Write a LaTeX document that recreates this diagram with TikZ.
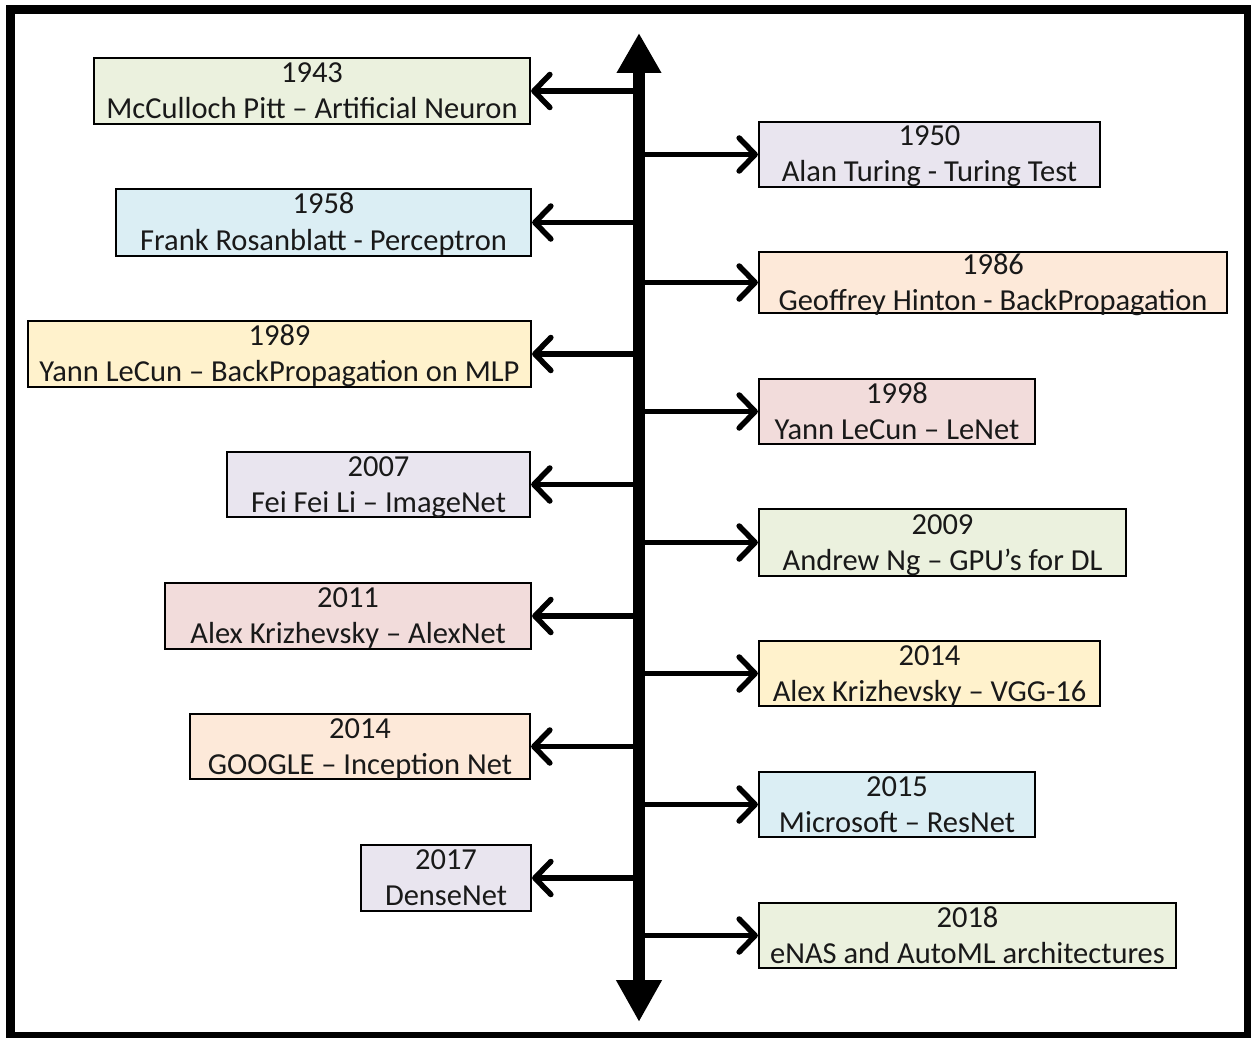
\documentclass[tikz,border=0pt]{standalone}
\usepackage{fontspec}
\setmainfont{Carlito}
\usetikzlibrary{arrows.meta,calc}

\definecolor{evgreen}{HTML}{EBF1DE}
\definecolor{evblue}{HTML}{DBEEF4}
\definecolor{evyellow}{HTML}{FFF2CC}
\definecolor{evlilac}{HTML}{E9E5EF}
\definecolor{evpink}{HTML}{F2DCDB}
\definecolor{evpeach}{HTML}{FDE9D9}

\tikzset{
  evbox/.style={draw=black, line width=2.2pt, rectangle, inner sep=0pt},
  evtext/.style={anchor=base, inner sep=0pt, font=\fontsize{30.5}{36}\selectfont, text=black!90},
  timeaxis/.style={line width=12pt, {Triangle[length=40pt,width=42pt]}-{Triangle[length=42pt,width=43pt]}},
  branch/.style={line width=5.5pt, -{Straight Barb[length=16pt,width=33pt,round]}},
}

% \EventBox{name}{cx}{cy}{width}{height}{fill}{year}{caption}
\newcommand\EventBox[8]{%
  \node[evbox, fill=#6, minimum width=#4pt, minimum height=#5pt] (#1) at (#2,#3) {};
  \node[evtext] (#1-year) at ($(#1.center)+(0,-8.5)$) {#7};
  \node[evtext] (#1-text) at ($(#1.center)+(0,27.5)$) {#8};
}

\begin{document}
\begin{tikzpicture}[x=1pt,y=-1pt]
  \useasboundingbox (0,0) rectangle (1251,1038);
  \draw[line width=9pt] (10,10) rectangle (1248,1036);

  % left column
  \EventBox{e1943}{312}{91}{436}{66}{evgreen}{1943}{McCulloch Pitt – Artificial Neuron}
  \EventBox{e1958}{323.5}{222.5}{415}{67}{evblue}{1958}{Frank Rosanblatt - Perceptron}
  \EventBox{e1989}{279.5}{354}{503}{66}{evyellow}{1989}{Yann LeCun – BackPropagation on MLP}
  \EventBox{e2007}{378.5}{484.5}{303}{65}{evlilac}{2007}{Fei Fei Li – ImageNet}
  \EventBox{e2011}{348}{616}{366}{66}{evpink}{2011}{Alex Krizhevsky – AlexNet}
  \EventBox{e2014a}{360}{746.5}{340}{65}{evpeach}{2014}{GOOGLE – Inception Net}
  \EventBox{e2017}{446}{878}{170}{66}{evlilac}{2017}{DenseNet}

  % right column
  \EventBox{e1950}{929.5}{154.5}{341}{65}{evlilac}{1950}{Alan Turing - Turing Test}
  \EventBox{e1986}{993}{282.5}{468}{61}{evpeach}{1986}{Geoffrey Hinton - BackPropagation}
  \EventBox{e1998}{897}{411.5}{276}{65}{evpink}{1998}{Yann LeCun – LeNet}
  \EventBox{e2009}{942.5}{542.5}{367}{67}{evgreen}{2009}{Andrew Ng – GPU’s for DL}
  \EventBox{e2014b}{929.5}{673.5}{341}{65}{evyellow}{2014}{Alex Krizhevsky – VGG-16}
  \EventBox{e2015}{897}{804.5}{276}{65}{evblue}{2015}{Microsoft – ResNet}
  \EventBox{e2018}{967.5}{935.5}{417}{65}{evgreen}{2018}{eNAS and AutoML architectures}

  % branches from the time axis
  \foreach \ev/\yy in {e1943/91, e1958/222.5, e1989/354, e2007/484.5, e2011/616, e2014a/746.5, e2017/878}{
    \coordinate (from-\ev) at (639,\yy);
    \draw[branch] (from-\ev) -- (\ev.east);
  }
  \foreach \ev/\yy in {e1950/154.5, e1986/282.5, e1998/411.5, e2009/542.5, e2014b/673.5, e2015/804.5, e2018/935.5}{
    \coordinate (from-\ev) at (639,\yy);
    \draw[branch] (from-\ev) -- (\ev.west);
  }

  % time axis
  \coordinate (axtop) at (639,33);
  \coordinate (axbot) at (639,1022);
  \draw[timeaxis] (axtop) -- (axbot);
\end{tikzpicture}
\end{document}
